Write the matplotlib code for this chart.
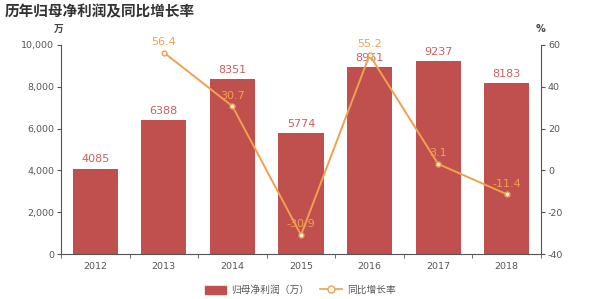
import matplotlib
matplotlib.use("Agg")
import matplotlib.pyplot as plt
from matplotlib.lines import Line2D
from matplotlib.patches import Patch

plt.rcParams['font.family'] = ['DejaVu Sans', 'Noto Sans CJK SC']
plt.rcParams['axes.unicode_minus'] = False

years = ['2012', '2013', '2014', '2015', '2016', '2017', '2018']
profit = [4085, 6388, 8351, 5774, 8961, 9237, 8183]
growth = [None, 56.4, 30.7, -30.9, 55.2, 3.1, -11.4]

bar_color = '#c0504d'
line_color = '#f0a050'
axis_color = '#555555'

fig = plt.figure(figsize=(6.0, 2.99), dpi=100)
ax = fig.add_axes([61/600, 1-254/299, 480/600, 209/299])
x = list(range(len(years)))
ax.bar(x, profit, width=0.66, color=bar_color, zorder=2)
ax.set_xlim(-0.5, len(years)-0.5)
ax.set_ylim(0, 10000)
ax.set_yticks([0, 2000, 4000, 6000, 8000, 10000])
ax.set_yticklabels(['0', '2,000', '4,000', '6,000', '8,000', '10,000'])
ax.set_xticks(x)
ax.set_xticklabels(years)
ax.set_xticks([i + 0.5 for i in range(-1, len(years))], minor=True)
ax.tick_params(axis='x', which='major', length=0, pad=6, labelsize=6.8, colors=axis_color)
ax.tick_params(axis='x', which='minor', length=3, color=axis_color)
ax.tick_params(axis='y', length=3, labelsize=6.8, colors=axis_color, pad=2)
for s in ['top', 'right']:
    ax.spines[s].set_visible(False)
for s in ['left', 'bottom']:
    ax.spines[s].set_color(axis_color)
    ax.spines[s].set_linewidth(0.8)
for xi, v in zip(x, profit):
    ax.annotate(str(v), (xi, v), xytext=(0, 3), textcoords='offset points',
                ha='center', va='bottom', fontsize=8, color='#c86060')

ax2 = ax.twinx()
ax2.set_ylim(-40, 60)
ax2.set_yticks([-40, -20, 0, 20, 40, 60])
gx = [xi for xi, g in zip(x, growth) if g is not None]
gy = [g for g in growth if g is not None]
ax2.plot(gx, gy, color=line_color, lw=1.4, marker='o', ms=3.5,
         markerfacecolor='white', markeredgecolor=line_color, markeredgewidth=1, zorder=3)
for xi, g in zip(gx, gy):
    ax2.annotate(f'{g:.1f}', (xi, g), xytext=(0, 4), textcoords='offset points',
                 ha='center', va='bottom', fontsize=8, color=line_color)
for s in ['top', 'left', 'bottom']:
    ax2.spines[s].set_visible(False)
ax2.spines['right'].set_color(axis_color)
ax2.spines['right'].set_linewidth(0.8)
ax2.tick_params(axis='y', length=3, labelsize=6.8, colors=axis_color, pad=2)

fig.text(5/600, 1-11/299, '历年归母净利润及同比增长率', fontsize=10.5, fontweight='bold',
         color='#333333', ha='left', va='center', family=['Noto Sans CJK SC'])
fig.text(59/600, 1-29/299, '万', fontsize=7, fontweight='bold', color='#444444', ha='center', va='center',
         family=['Noto Sans CJK SC'])
fig.text(540/600, 1-29/299, '%', fontsize=7, fontweight='bold', color='#444444', ha='center', va='center')

handles = [Patch(facecolor=bar_color, edgecolor=bar_color),
           Line2D([0], [0], color=line_color, lw=1.2, marker='o', ms=5,
                  markerfacecolor='white', markeredgecolor=line_color)]
fig.legend(handles, ['归母净利润（万）', '同比增长率'], loc='center', bbox_to_anchor=(0.5, 1-290/299),
           ncol=2, frameon=False, prop={'family': ['Noto Sans CJK SC'], 'size': 7},
           labelcolor='#555555', handlelength=2.2,
           handleheight=0.9, columnspacing=1.2, handletextpad=0.5)

fig.savefig('out.png', dpi=100)
